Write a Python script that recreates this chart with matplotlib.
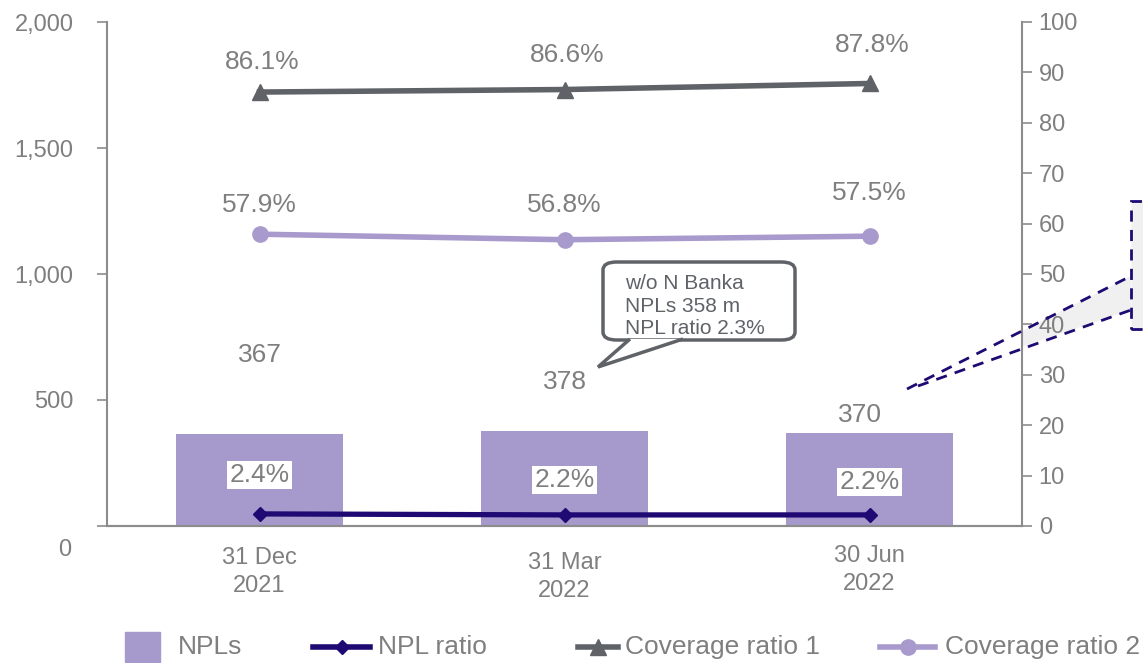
import matplotlib
matplotlib.use("Agg")
from matplotlib import pyplot as plt
from matplotlib.patches import FancyBboxPatch, Polygon, Rectangle
from matplotlib.lines import Line2D
from matplotlib.transforms import ScaledTranslation

plt.rcParams["font.family"] = ["Liberation Sans", "DejaVu Sans"]

# data
periods = ["31 Dec\n2021", "31 Mar\n2022", "30 Jun\n2022"]
npls = [367, 378, 370]
npl_ratio = [2.4, 2.2, 2.2]
coverage_1 = [86.1, 86.6, 87.8]
coverage_2 = [57.9, 56.8, 57.5]

TEXT = "#7f7f7f"
BAR = "#a699cb"
DARK = "#1f0a73"
GREY = "#5f6368"
LILAC = "#a99acd"

W, H = 1143, 663
fig = plt.figure(figsize=(W / 100, H / 100), dpi=100)
ax = fig.add_axes([107 / W, 1 - 526 / H, 915 / W, 504 / H])
ax2 = ax.twinx()

x = list(range(len(periods)))

ax.bar(x, npls, width=0.55, color=BAR, zorder=1)
ax.set_xlim(-0.5, 2.5)
ax.set_ylim(0, 2000)
ax.set_yticks([0, 500, 1000, 1500, 2000])
ax.set_yticklabels(["0", "500", "1,000", "1,500", "2,000"])
ax2.set_ylim(0, 100)
ax2.set_yticks(range(0, 101, 10))

for a in (ax, ax2):
    a.tick_params(axis="y", colors="#8c8c8c", labelsize=17, length=7, width=1.2,
                  labelcolor=TEXT)
    a.tick_params(axis="x", length=0)
    for s in a.spines.values():
        s.set_color("#8c8c8c")
        s.set_linewidth(1.5)
    a.spines["top"].set_visible(False)
ax.tick_params(axis="y", pad=17)
ax2.tick_params(axis="y", pad=5)
ax.spines["right"].set_visible(False)
ax2.spines["left"].set_visible(False)
ax.set_xticks([])

# the zero on the left axis sits below the baseline
zero = ax.get_yticklabels()[0]
zero.set_transform(zero.get_transform() + ScaledTranslation(-0.02, -0.22, fig.dpi_scale_trans))

ax2.plot(x, npl_ratio, color=DARK, lw=3.8, marker="D", ms=7, zorder=3)
ax2.plot(x, coverage_1, color=GREY, lw=4, marker="^", ms=11, zorder=3)
ax2.plot(x, coverage_2, color=LILAC, lw=4, marker="o", ms=11, zorder=3)

# period labels under the axis
for xi, lab, ypix in zip(x, periods, [572, 577, 570]):
    ax.text(xi, (526 - ypix) / 504 * 2000, lab, ha="center", va="center",
            fontsize=17, color=TEXT, linespacing=1.3)

# value labels
bar_label_y = [678, 571, 440]
bar_label_dx = [0, 0, -0.03]
for xi, v, yl, dx in zip(x, npls, bar_label_y, bar_label_dx):
    ax.text(xi + dx, yl, f"{v}", ha="center", va="center", fontsize=19, color=TEXT)

ratio_label_y = [10.1, 9.1, 8.7]
for xi, v, yl in zip(x, npl_ratio, ratio_label_y):
    ax2.text(xi, yl, f"{v:.1f}%", ha="center", va="center", fontsize=19, color=TEXT,
             bbox=dict(facecolor="white", edgecolor="none", pad=1.5), zorder=4)

cov1_label_y = [92.1, 93.5, 95.4]
for xi, v, yl in zip(x, coverage_1, cov1_label_y):
    ax2.text(xi + 0.01, yl, f"{v:.1f}%", ha="center", va="center", fontsize=19, color=TEXT)

cov2_label_y = [63.7, 63.7, 66.0]
for xi, v, yl in zip(x, coverage_2, cov2_label_y):
    ax2.text(xi, yl, f"{v:.1f}%", ha="center", va="center", fontsize=19, color=TEXT)


def fx(px):
    return px / W


def fy(py):
    return 1 - py / H


# speech bubble note
bubble = FancyBboxPatch((fx(603), fy(340)), fx(795) - fx(603), fy(262) - fy(340),
                        boxstyle="round,pad=0,rounding_size=0.012",
                        transform=fig.transFigure, facecolor="white",
                        edgecolor=GREY, lw=2.5, zorder=5)
fig.add_artist(bubble)
tail = Polygon([(fx(630), fy(339)), (fx(598), fy(367)), (fx(683), fy(339))],
               closed=False, transform=fig.transFigure, facecolor="white",
               edgecolor=GREY, lw=2.5, zorder=6)
fig.add_artist(tail)
fig.text(fx(625), fy(306), "w/o N Banka\nNPLs 358 m\nNPL ratio 2.3%", ha="left",
         va="center", fontsize=15, color=GREY, linespacing=1.22, zorder=7)

# dashed zoom connector off to the right
fig.add_artist(Polygon([(fx(907), fy(389)), (fx(1131), fy(276)), (fx(1131), fy(310)),
                        (fx(920), fy(381))], transform=fig.transFigure,
                       facecolor="#f0f0f0", edgecolor="none", zorder=0))
fig.add_artist(Rectangle((fx(1131), fy(329)), fx(1150) - fx(1131), fy(201) - fy(329),
                         transform=fig.transFigure, facecolor="#f0f0f0",
                         edgecolor=DARK, lw=2, ls=(0, (4, 3)), zorder=0))
fig.add_artist(Line2D([fx(907), fx(1131)], [fy(389), fy(276)], transform=fig.transFigure,
                      color=DARK, lw=2, ls=(0, (4, 3))))
fig.add_artist(Line2D([fx(918), fx(1131)], [fy(386), fy(310)], transform=fig.transFigure,
                      color=DARK, lw=2, ls=(0, (4, 3))))

# legend, laid out by hand along the bottom
ly = fy(647)
fig.add_artist(Rectangle((fx(125), fy(662)), fx(35), fy(632) - fy(662),
                         transform=fig.transFigure, color=BAR))
fig.text(fx(178), ly, "NPLs", ha="left", va="center", fontsize=19, color=TEXT)
keys = [
    (313, 370, 378, DARK, "D", 7, "NPL ratio"),
    (578, 618, 625, GREY, "^", 11, "Coverage ratio 1"),
    (880, 935, 945, LILAC, "o", 11, "Coverage ratio 2"),
]
for x0, x1, xt, col, mk, ms, lab in keys:
    fig.add_artist(Line2D([fx(x0), fx(x1)], [ly, ly], transform=fig.transFigure,
                          color=col, lw=4))
    fig.add_artist(Line2D([fx((x0 + x1) / 2)], [ly], transform=fig.transFigure,
                          color=col, marker=mk, ms=ms, lw=0))
    fig.text(fx(xt), ly, lab, ha="left", va="center", fontsize=19, color=TEXT)

fig.savefig("out.png", dpi=100)
